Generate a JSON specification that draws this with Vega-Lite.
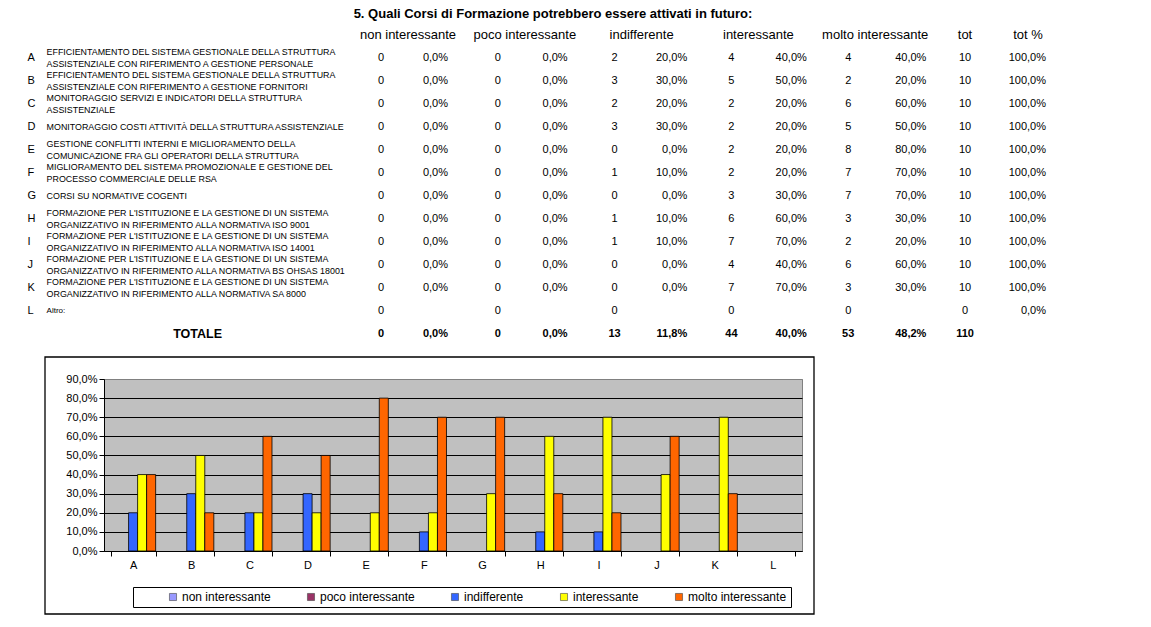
{
  "$schema": "https://vega.github.io/schema/vega-lite/v6.json",
  "padding": {"left": 26, "top": 8, "right": 0, "bottom": 0},
  "background": "white",
  "config": {
    "font": "Liberation Sans",
    "locale": {"number": {"decimal": ",", "thousands": ".", "grouping": [3], "currency": ["€", ""]}},
    "view": {"stroke": null},
    "text": {"color": "black", "font": "Liberation Sans"}
  },
  "datasets": {
    "table": [
      {"row": "A", "desc": "EFFICIENTAMENTO DEL SISTEMA GESTIONALE DELLA STRUTTURA\nASSISTENZIALE CON RIFERIMENTO A GESTIONE PERSONALE", "n1": 0, "p1": "0,0%", "n2": 0, "p2": "0,0%", "n3": 2, "p3": "20,0%", "n4": 4, "p4": "40,0%", "n5": 4, "p5": "40,0%", "n6": 10, "p6": "100,0%"},
      {"row": "B", "desc": "EFFICIENTAMENTO DEL SISTEMA GESTIONALE DELLA STRUTTURA\nASSISTENZIALE CON RIFERIMENTO A GESTIONE FORNITORI", "n1": 0, "p1": "0,0%", "n2": 0, "p2": "0,0%", "n3": 3, "p3": "30,0%", "n4": 5, "p4": "50,0%", "n5": 2, "p5": "20,0%", "n6": 10, "p6": "100,0%"},
      {"row": "C", "desc": "MONITORAGGIO SERVIZI E INDICATORI DELLA STRUTTURA\nASSISTENZIALE", "n1": 0, "p1": "0,0%", "n2": 0, "p2": "0,0%", "n3": 2, "p3": "20,0%", "n4": 2, "p4": "20,0%", "n5": 6, "p5": "60,0%", "n6": 10, "p6": "100,0%"},
      {"row": "D", "desc": "MONITORAGGIO COSTI ATTIVITÀ DELLA STRUTTURA ASSISTENZIALE", "n1": 0, "p1": "0,0%", "n2": 0, "p2": "0,0%", "n3": 3, "p3": "30,0%", "n4": 2, "p4": "20,0%", "n5": 5, "p5": "50,0%", "n6": 10, "p6": "100,0%"},
      {"row": "E", "desc": "GESTIONE CONFLITTI INTERNI E MIGLIORAMENTO DELLA\nCOMUNICAZIONE FRA GLI OPERATORI DELLA STRUTTURA", "n1": 0, "p1": "0,0%", "n2": 0, "p2": "0,0%", "n3": 0, "p3": "0,0%", "n4": 2, "p4": "20,0%", "n5": 8, "p5": "80,0%", "n6": 10, "p6": "100,0%"},
      {"row": "F", "desc": "MIGLIORAMENTO DEL SISTEMA PROMOZIONALE E GESTIONE DEL\nPROCESSO COMMERCIALE DELLE RSA", "n1": 0, "p1": "0,0%", "n2": 0, "p2": "0,0%", "n3": 1, "p3": "10,0%", "n4": 2, "p4": "20,0%", "n5": 7, "p5": "70,0%", "n6": 10, "p6": "100,0%"},
      {"row": "G", "desc": "CORSI SU NORMATIVE COGENTI", "n1": 0, "p1": "0,0%", "n2": 0, "p2": "0,0%", "n3": 0, "p3": "0,0%", "n4": 3, "p4": "30,0%", "n5": 7, "p5": "70,0%", "n6": 10, "p6": "100,0%"},
      {"row": "H", "desc": "FORMAZIONE PER L'ISTITUZIONE E LA GESTIONE DI UN SISTEMA\nORGANIZZATIVO IN RIFERIMENTO ALLA NORMATIVA ISO 9001", "n1": 0, "p1": "0,0%", "n2": 0, "p2": "0,0%", "n3": 1, "p3": "10,0%", "n4": 6, "p4": "60,0%", "n5": 3, "p5": "30,0%", "n6": 10, "p6": "100,0%"},
      {"row": "I", "desc": "FORMAZIONE PER L'ISTITUZIONE E LA GESTIONE DI UN SISTEMA\nORGANIZZATIVO IN RIFERIMENTO ALLA NORMATIVA ISO 14001", "n1": 0, "p1": "0,0%", "n2": 0, "p2": "0,0%", "n3": 1, "p3": "10,0%", "n4": 7, "p4": "70,0%", "n5": 2, "p5": "20,0%", "n6": 10, "p6": "100,0%"},
      {"row": "J", "desc": "FORMAZIONE PER L'ISTITUZIONE E LA GESTIONE DI UN SISTEMA\nORGANIZZATIVO IN RIFERIMENTO ALLA NORMATIVA BS OHSAS 18001", "n1": 0, "p1": "0,0%", "n2": 0, "p2": "0,0%", "n3": 0, "p3": "0,0%", "n4": 4, "p4": "40,0%", "n5": 6, "p5": "60,0%", "n6": 10, "p6": "100,0%"},
      {"row": "K", "desc": "FORMAZIONE PER L'ISTITUZIONE E LA GESTIONE DI UN SISTEMA\nORGANIZZATIVO IN RIFERIMENTO ALLA NORMATIVA SA 8000", "n1": 0, "p1": "0,0%", "n2": 0, "p2": "0,0%", "n3": 0, "p3": "0,0%", "n4": 7, "p4": "70,0%", "n5": 3, "p5": "30,0%", "n6": 10, "p6": "100,0%"},
      {"row": "L", "desc": "Altro:", "n1": 0, "p1": "", "n2": 0, "p2": "", "n3": 0, "p3": "", "n4": 0, "p4": "", "n5": 0, "p5": "", "n6": 0, "p6": "0,0%"},
      {"row": "TOTALE", "desc": "TOTALE", "n1": 0, "p1": "0,0%", "n2": 0, "p2": "0,0%", "n3": 13, "p3": "11,8%", "n4": 44, "p4": "40,0%", "n5": 53, "p5": "48,2%", "n6": 110, "p6": ""}
    ],
    "headers": [
      {"col": "n1", "label": "non interessante"},
      {"col": "n2", "label": "poco interessante"},
      {"col": "n3", "label": "indifferente"},
      {"col": "n4", "label": "interessante"},
      {"col": "n5", "label": "molto interessante"},
      {"col": "n6", "label": "tot"},
      {"col": "p6", "label": "tot %"}
    ],
    "bars": [
      {"cat": "A", "non interessante": 0, "poco interessante": 0, "indifferente": 0.2, "interessante": 0.4, "molto interessante": 0.4},
      {"cat": "B", "non interessante": 0, "poco interessante": 0, "indifferente": 0.3, "interessante": 0.5, "molto interessante": 0.2},
      {"cat": "C", "non interessante": 0, "poco interessante": 0, "indifferente": 0.2, "interessante": 0.2, "molto interessante": 0.6},
      {"cat": "D", "non interessante": 0, "poco interessante": 0, "indifferente": 0.3, "interessante": 0.2, "molto interessante": 0.5},
      {"cat": "E", "non interessante": 0, "poco interessante": 0, "indifferente": 0, "interessante": 0.2, "molto interessante": 0.8},
      {"cat": "F", "non interessante": 0, "poco interessante": 0, "indifferente": 0.1, "interessante": 0.2, "molto interessante": 0.7},
      {"cat": "G", "non interessante": 0, "poco interessante": 0, "indifferente": 0, "interessante": 0.3, "molto interessante": 0.7},
      {"cat": "H", "non interessante": 0, "poco interessante": 0, "indifferente": 0.1, "interessante": 0.6, "molto interessante": 0.3},
      {"cat": "I", "non interessante": 0, "poco interessante": 0, "indifferente": 0.1, "interessante": 0.7, "molto interessante": 0.2},
      {"cat": "J", "non interessante": 0, "poco interessante": 0, "indifferente": 0, "interessante": 0.4, "molto interessante": 0.6},
      {"cat": "K", "non interessante": 0, "poco interessante": 0, "indifferente": 0, "interessante": 0.7, "molto interessante": 0.3},
      {"cat": "L", "non interessante": 0, "poco interessante": 0, "indifferente": 0, "interessante": 0, "molto interessante": 0}
    ]
  },
  "vconcat": [
    {
      "width": 960,
      "height": 322,
      "title": {"text": "5. Quali Corsi di Formazione potrebbero essere attivati in futuro:", "fontSize": 13, "fontWeight": "bold", "anchor": "middle", "dx": -31, "offset": 2, "color": "black"},
      "view": {"stroke": null},
      "encoding": {
        "y": {"field": "row", "type": "ordinal", "scale": {"type": "point", "domain": ["hdr", "A", "B", "C", "D", "E", "F", "G", "H", "I", "J", "K", "L", "TOTALE"], "padding": 0.5}, "axis": null}
      },
      "layer": [
        {
          "data": {"name": "table"},
          "transform": [{"filter": "datum.row !== 'TOTALE'"}],
          "mark": {"type": "text", "align": "left", "dx": -3, "fontSize": 11},
          "encoding": {
            "x": {"datum": "lett", "type": "nominal", "scale": {"type": "point", "domain": ["lett", "s1", "s2", "n1", "n2", "n3", "n4", "n5", "n6"], "range": [-73.4, 861], "padding": 0}, "axis": null},
            "text": {"field": "row"}
          }
        },
        {
          "data": {"name": "table"},
          "transform": [{"filter": "datum.row !== 'TOTALE' && datum.row !== 'L' && indexof(datum.desc, '\\n') >= 0"}],
          "mark": {"type": "text", "align": "left", "dx": 16, "dy": -6, "fontSize": 8.9, "lineBreak": "\n", "lineHeight": 12},
          "encoding": {
            "x": {"datum": "lett", "type": "nominal", "scale": {"type": "point", "domain": ["lett", "s1", "s2", "n1", "n2", "n3", "n4", "n5", "n6"], "range": [-73.4, 861], "padding": 0}, "axis": null},
            "text": {"field": "desc"}
          }
        },
        {
          "data": {"name": "table"},
          "transform": [{"filter": "datum.row !== 'TOTALE' && datum.row !== 'L' && indexof(datum.desc, '\\n') < 0"}],
          "mark": {"type": "text", "align": "left", "dx": 16, "fontSize": 8.9},
          "encoding": {
            "x": {"datum": "lett", "type": "nominal", "scale": {"type": "point", "domain": ["lett", "s1", "s2", "n1", "n2", "n3", "n4", "n5", "n6"], "range": [-73.4, 861], "padding": 0}, "axis": null},
            "text": {"field": "desc"}
          }
        },
        {
          "data": {"name": "table"},
          "transform": [{"filter": "datum.row === 'L'"}],
          "mark": {"type": "text", "align": "left", "dx": 16, "fontSize": 8},
          "encoding": {
            "x": {"datum": "lett", "type": "nominal", "scale": {"type": "point", "domain": ["lett", "s1", "s2", "n1", "n2", "n3", "n4", "n5", "n6"], "range": [-73.4, 861], "padding": 0}, "axis": null},
            "text": {"field": "desc"}
          }
        },
        {
          "data": {"name": "table"},
          "transform": [{"filter": "datum.row === 'TOTALE'"}],
          "mark": {"type": "text", "align": "center", "dx": 167, "fontSize": 12.5, "fontWeight": "bold"},
          "encoding": {
            "x": {"datum": "lett", "type": "nominal", "scale": {"type": "point", "domain": ["lett", "s1", "s2", "n1", "n2", "n3", "n4", "n5", "n6"], "range": [-73.4, 861], "padding": 0}, "axis": null},
            "text": {"field": "desc"}
          }
        },
        {
          "data": {"name": "table"},
          "transform": [{"fold": ["n1", "n2", "n3", "n4", "n5", "n6"], "as": ["col", "val"]}, {"filter": "datum.row !== 'TOTALE'"}],
          "mark": {"type": "text", "align": "center", "fontSize": 11},
          "encoding": {
            "x": {"field": "col", "type": "nominal", "scale": {"type": "point", "domain": ["lett", "s1", "s2", "n1", "n2", "n3", "n4", "n5", "n6"], "range": [-73.4, 861], "padding": 0}, "axis": null},
            "text": {"field": "val"}
          }
        },
        {
          "data": {"name": "table"},
          "transform": [{"fold": ["n1", "n2", "n3", "n4", "n5", "n6"], "as": ["col", "val"]}, {"filter": "datum.row === 'TOTALE'"}],
          "mark": {"type": "text", "align": "center", "fontSize": 11, "fontWeight": "bold"},
          "encoding": {
            "x": {"field": "col", "type": "nominal", "scale": {"type": "point", "domain": ["lett", "s1", "s2", "n1", "n2", "n3", "n4", "n5", "n6"], "range": [-73.4, 861], "padding": 0}, "axis": null},
            "text": {"field": "val"}
          }
        },
        {
          "data": {"name": "table"},
          "transform": [{"fold": ["p1", "p2", "p3", "p4", "p5", "p6"], "as": ["col", "val"]}, {"filter": "datum.row !== 'TOTALE'"}],
          "mark": {"type": "text", "align": "right", "fontSize": 11},
          "encoding": {
            "x": {"field": "col", "type": "nominal", "scale": {"type": "point", "domain": ["q1", "q2", "q3", "p1", "p2", "p3", "p4", "p5", "p6"], "range": [-14.8, 942], "padding": 0}, "axis": null},
            "text": {"field": "val"}
          }
        },
        {
          "data": {"name": "table"},
          "transform": [{"fold": ["p1", "p2", "p3", "p4", "p5", "p6"], "as": ["col", "val"]}, {"filter": "datum.row === 'TOTALE'"}],
          "mark": {"type": "text", "align": "right", "fontSize": 11, "fontWeight": "bold"},
          "encoding": {
            "x": {"field": "col", "type": "nominal", "scale": {"type": "point", "domain": ["q1", "q2", "q3", "p1", "p2", "p3", "p4", "p5", "p6"], "range": [-14.8, 942], "padding": 0}, "axis": null},
            "text": {"field": "val"}
          }
        },
        {
          "data": {"name": "headers"},
          "transform": [{"filter": "datum.col !== 'n6' && datum.col !== 'p6'"}],
          "mark": {"type": "text", "align": "center", "dx": 27, "fontSize": 13},
          "encoding": {
            "y": {"datum": "hdr", "type": "ordinal"},
            "x": {"field": "col", "type": "nominal", "scale": {"type": "point", "domain": ["lett", "s1", "s2", "n1", "n2", "n3", "n4", "n5", "n6"], "range": [-73.4, 861], "padding": 0}, "axis": null},
            "text": {"field": "label"}
          }
        },
        {
          "data": {"name": "headers"},
          "transform": [{"filter": "datum.col === 'n6'"}],
          "mark": {"type": "text", "align": "center", "fontSize": 13},
          "encoding": {
            "y": {"datum": "hdr", "type": "ordinal"},
            "x": {"field": "col", "type": "nominal", "scale": {"type": "point", "domain": ["lett", "s1", "s2", "n1", "n2", "n3", "n4", "n5", "n6"], "range": [-73.4, 861], "padding": 0}, "axis": null},
            "text": {"field": "label"}
          }
        },
        {
          "data": {"name": "headers"},
          "transform": [{"filter": "datum.col === 'p6'"}],
          "mark": {"type": "text", "align": "center", "dx": -18, "fontSize": 13},
          "encoding": {
            "y": {"datum": "hdr", "type": "ordinal"},
            "x": {"field": "col", "type": "nominal", "scale": {"type": "point", "domain": ["q1", "q2", "q3", "p1", "p2", "p3", "p4", "p5", "p6"], "range": [-14.8, 942], "padding": 0}, "axis": null},
            "text": {"field": "label"}
          }
        }
      ],
      "resolve": {"scale": {"x": "independent"}}
    },
    {
      "width": 698,
      "height": 172,
      "view": {"fill": "#C0C0C0", "stroke": "#808080"},
      "layer": [
        {
          "data": {"values": [{}]},
          "mark": {"type": "rect", "fill": null, "stroke": null, "x2Offset": -77},
          "encoding": {"x2": {"value": 0}}
        },
        {
          "data": {"values": [{}]},
          "mark": {"type": "rect", "fill": null, "stroke": "black", "strokeWidth": 1.3, "xOffset": 12, "x2Offset": -59, "yOffset": 63, "y2Offset": -22},
          "encoding": {
            "x2": {"value": 0},
            "y": {"datum": 0, "type": "quantitative", "scale": {"domain": [0, 0.9], "nice": false},
              "axis": {"title": null, "values": [0, 0.1, 0.2, 0.3, 0.4, 0.5, 0.6, 0.7, 0.8, 0.9], "format": ".1%", "labelOverlap": false, "grid": true, "gridColor": {"condition": {"test": "datum.value > 0.85", "value": "#808080"}, "value": "black"}, "gridOpacity": 1, "domainColor": "black", "tickColor": "black", "tickSize": 5, "labelFontSize": 11, "labelColor": "black", "labelPadding": 2}},
            "y2": {"datum": 0.9}
          }
        },
        {
          "data": {"name": "bars"},
          "transform": [
            {"fold": ["non interessante", "poco interessante", "indifferente", "interessante", "molto interessante"], "as": ["series", "value"]},
            {"filter": "datum.value > 0"}
          ],
          "mark": {"type": "bar", "stroke": "black", "strokeWidth": 0.8},
          "encoding": {
            "x": {"field": "cat", "type": "nominal", "scale": {"domain": ["A", "B", "C", "D", "E", "F", "G", "H", "I", "J", "K", "L"], "paddingInner": 0.224, "paddingOuter": 0.112},
              "axis": {"title": null, "labelAngle": 0, "tickBand": "extent", "tickSize": 5, "domainColor": "black", "tickColor": "black", "labelFontSize": 11, "labelColor": "black", "labelPadding": 3, "grid": false}},
            "xOffset": {"field": "series", "type": "nominal", "scale": {"domain": ["non interessante", "poco interessante", "indifferente", "interessante", "molto interessante"], "paddingInner": 0, "paddingOuter": 0}},
            "y": {"field": "value", "type": "quantitative", "scale": {"domain": [0, 0.9], "nice": false},
              "axis": {"title": null, "values": [0, 0.1, 0.2, 0.3, 0.4, 0.5, 0.6, 0.7, 0.8, 0.9], "format": ".1%", "labelOverlap": false, "grid": true, "gridColor": {"condition": {"test": "datum.value > 0.85", "value": "#808080"}, "value": "black"}, "gridOpacity": 1, "domainColor": "black", "tickColor": "black", "tickSize": 5, "labelFontSize": 11, "labelColor": "black", "labelPadding": 2}},
            "color": {"field": "series", "type": "nominal",
              "scale": {"domain": ["non interessante", "poco interessante", "indifferente", "interessante", "molto interessante"], "range": ["#9999FF", "#993366", "#3366FF", "#FFFF00", "#FF6600"]},
              "legend": {"orient": "none", "legendX": 29, "legendY": 564, "direction": "horizontal", "title": " ", "titleOrient": "left", "titlePadding": 30, "strokeColor": "black", "fillColor": "white", "padding": 4, "labelFontSize": 12, "labelColor": "black", "symbolType": "square", "symbolSize": 50, "symbolStrokeColor": "#444444", "symbolStrokeWidth": 0.6, "columnPadding": 34, "labelOffset": 3}}
          }
        }
      ]
    }
  ],
  "spacing": 10
}
